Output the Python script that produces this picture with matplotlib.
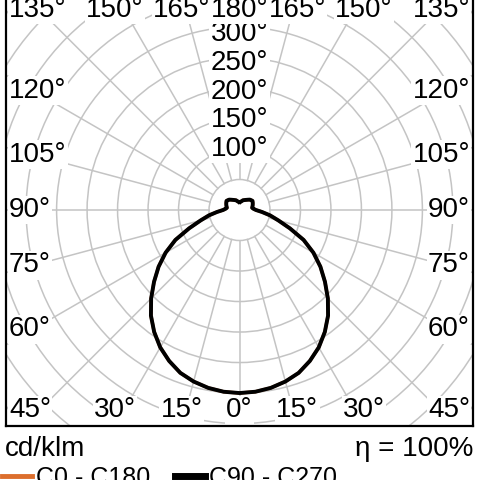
"""Polar luminous intensity diagram (cd/klm), C0-C180 and C90-C270 planes."""

import matplotlib.pyplot as plt
import numpy as np
from matplotlib.lines import Line2D
from matplotlib.patches import Circle

plt.rcParams['font.family'] = ['Liberation Sans', 'DejaVu Sans']

# gamma angle (0 = straight down) and intensity in cd/klm
gamma_deg = [0, 5, 10, 15, 20, 25, 30, 35, 40, 45, 50, 55, 60, 65, 70, 75, 80, 85, 90,
             95, 100, 105, 110, 115, 120, 125, 130, 135, 140, 150, 160, 170, 180]
c90_c270 = [300, 299, 296, 291, 284, 273, 260, 244, 226, 205, 183, 162, 140, 116, 88, 66, 51, 37, 27,
            23, 21, 22, 23, 24, 25, 26, 25, 24, 22, 19, 17, 14, 13]
c0_c180 = [300, 299, 296, 291, 284, 273, 260, 244, 226, 205, 183, 162, 140, 116, 88, 66, 51, 37, 27,
           23, 21, 22, 23, 24, 25, 26, 25, 24, 22, 19, 17, 14, 13]

ring_values = [50, 100, 150, 200, 250, 300, 350, 400, 450, 500, 550]
ring_labels = [100, 150, 200, 250, 300]
angle_labels = [0, 15, 30, 45, 60, 75, 90, 105, 120, 135, 150, 165, 180]

GRID = '#c4c4c4'
ORANGE = '#dc6e2d'
FS = 20
HALF_W, HALF_H = 383, 354


def mirrored_xy(gamma, values):
    g = np.radians(np.asarray(gamma, dtype=float))
    v = np.asarray(values, dtype=float)
    theta = np.concatenate([-g[::-1], g[1:]])
    r = np.concatenate([v[::-1], v[1:]])
    return r * np.sin(theta), -r * np.cos(theta)


fig = plt.figure(figsize=(4.8, 4.8), dpi=100)
ax = fig.add_axes([6 / 480, 54 / 480, 467 / 480, 432 / 480])
ax.set_xlim(-HALF_W, HALF_W)
ax.set_ylim(-HALF_H, HALF_H)
ax.set_xticks([])
ax.set_yticks([])
for sp in ax.spines.values():
    sp.set_linewidth(1.6)
    sp.set_color('black')
    sp.set_zorder(10)

# grid: rings and spokes (spokes start at the inner ring)
for r in ring_values:
    ax.add_patch(Circle((0, 0), r, fill=False, ec=GRID, lw=1.1, zorder=1))
for a in range(0, 360, 15):
    t = np.radians(a)
    ax.plot([50 * np.sin(t), 700 * np.sin(t)], [-50 * np.cos(t), -700 * np.cos(t)],
            color=GRID, lw=1.1, zorder=1)

box = dict(boxstyle='square,pad=0.05', fc='white', ec='none')

# radius labels, slightly pulled in towards the centre like the original
for v in ring_labels:
    ax.text(0, v * 0.94 + 6, f"{v}°", ha='center', va='center', fontsize=FS, bbox=box, zorder=3)

# angle labels around the frame
for g in angle_labels:
    sides = [1] if g in (0, 180) else [-1, 1]
    for s in sides:
        t = np.radians(g)
        if g in (45, 135):
            x, y = s * 378, (-328 if g == 45 else 328)
            ha = 'left' if s < 0 else 'right'
        elif g < 45:
            x, y, ha = s * 354 * np.tan(t), -328, 'center'
        elif g > 135:
            x, y, ha = s * 354 * np.tan(np.pi - t), 328, 'center'
        else:
            x, y = s * 378, -339 * np.cos(t) / np.sin(t)
            ha = 'left' if s < 0 else 'right'
        ax.text(x, y, f"{g}°", ha=ha, va='center', fontsize=FS, bbox=box, zorder=3)

# intensity curves
x0, y0 = mirrored_xy(gamma_deg, c0_c180)
x90, y90 = mirrored_xy(gamma_deg, c90_c270)
ax.plot(x0, y0, color=ORANGE, lw=2.4, zorder=4)
ax.plot(x90, y90, color='black', lw=2.8, zorder=5, solid_joinstyle='round')

fig.text(5 / 480, 1 - 449 / 480, "cd/klm", ha='left', va='center', fontsize=FS)
fig.text(473 / 480, 1 - 449 / 480, "η = 100%", ha='right', va='center', fontsize=FS)

handles = [Line2D([], [], color=ORANGE, lw=3.5), Line2D([], [], color='black', lw=5)]
fig.legend(handles, ["C0 - C180", "C90 - C270"], ncol=2, loc='upper left',
           bbox_to_anchor=(2 / 480, 1 - 466 / 480), frameon=False, fontsize=18,
           handlelength=1.2, handletextpad=0.15, columnspacing=1.0,
           borderaxespad=0, borderpad=0)

fig.savefig('out.png', dpi=100)
